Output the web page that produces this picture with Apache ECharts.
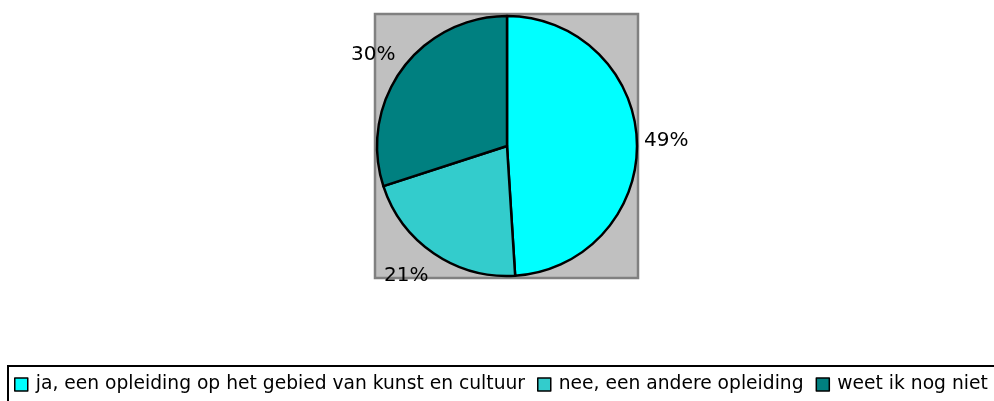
<!DOCTYPE html>
<html>
<head>
<meta charset="utf-8">
<script src="https://cdn.jsdelivr.net/npm/echarts@6/dist/echarts.min.js"></script>
<style>
  html, body { margin: 0; padding: 0; background: #fff; }
  #chart { width: 994px; height: 401px; }
</style>
</head>
<body>
<div id="chart"></div>
<script>
  // data
  const categories = ['ja, een opleiding op het gebied van kunst en cultuur', 'nee, een andere opleiding', 'weet ik nog niet']
  const values = [49, 21, 30]
  const colors = ['#00FFFF', '#33CCCC', '#008080']

  // where the percentage labels sit (layout only)
  const labelSpots = [
    {x: 644, y: 141},
    {x: 384, y: 276},
    {x: 351, y: 55}
  ]

  const chart = echarts.init(document.getElementById('chart'))

  const option = {
    animation: false,
    textStyle: {fontFamily: 'DejaVu Sans'},
    // grey plot area behind the pie
    graphic: [{
      type: 'rect',
      z: -10,
      shape: {x: 375, y: 14, width: 263, height: 264},
      style: {fill: '#C0C0C0', stroke: '#808080', lineWidth: 2.5}
    }],
    legend: {
      left: 8,
      top: 366,
      width: 1200,
      orient: 'horizontal',
      icon: 'rect',
      itemWidth: 13,
      itemHeight: 13,
      itemGap: 12,
      borderColor: '#000',
      borderWidth: 2,
      padding: [9, 30, 12, 6],
      itemStyle: {borderColor: '#000', borderWidth: 1.5},
      textStyle: {
        color: '#000',
        fontSize: 18.7,
        fontFamily: 'DejaVu Sans',
        padding: [0, 0, 0, 3]
      },
      data: categories
    },
    series: [{
      type: 'pie',
      center: [507, 146],
      radius: 130,
      startAngle: 90,
      clockwise: true,
      avoidLabelOverlap: false,
      itemStyle: {borderColor: '#000', borderWidth: 2.5},
      label: {
        show: true,
        position: 'outside',
        formatter: '{c}%',
        color: '#000',
        fontSize: 20,
        fontFamily: 'DejaVu Sans'
      },
      labelLine: {show: false},
      labelLayout: function (params) {
        const p = labelSpots[params.dataIndex]
        return {x: p.x, y: p.y, align: 'left', verticalAlign: 'middle'}
      },
      emphasis: {disabled: true},
      data: categories.map((name, i) => ({
        name: name,
        value: values[i],
        itemStyle: {color: colors[i]}
      }))
    }]
  }

  chart.setOption(option)
  window.addEventListener('resize', function () {
    chart.resize()
  })
</script>
</body>
</html>
